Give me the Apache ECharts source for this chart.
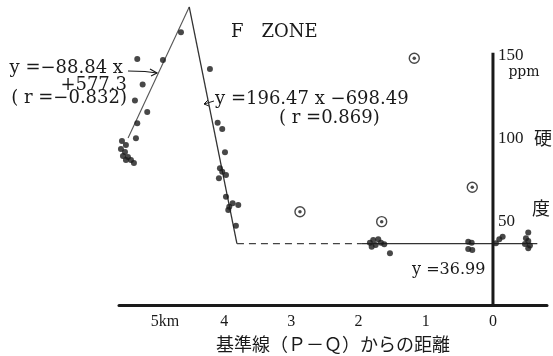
<!DOCTYPE html>
<html><head><meta charset="utf-8">
<script src="https://cdn.jsdelivr.net/npm/echarts@6/dist/echarts.min.js"></script>
<style>html,body{margin:0;padding:0;background:#fff}#c{width:553px;height:356px}</style>
</head><body><div id="c"></div>
<script>
// ---- data (distance from baseline P-Q in km, hardness in ppm) ----
const xTickValues = [0, 1, 2, 3, 4, 5];
const xTickLabels = ['0', '1', '2', '3', '4', '5km'];
const yTickValues = [50, 100, 150];

const dots = [
  [5.293,148.2],[4.911,147.6],[4.643,164.3],[5.213,132.8],[5.328,123.1],[5.145,116.3],[5.293,109.5],[5.313,100.4],
  [5.521,98.8],[5.462,96.4],[5.536,94.0],[5.476,92.2],[5.506,89.8],[5.432,89.2],[5.462,87.3],[5.387,87.3],[5.343,85.5],
  [4.212,142.2],[4.097,109.8],[4.029,106.0],[3.988,92.0],[4.063,82.3],[4.029,80.3],[3.973,78.3],[4.078,76.3],
  [3.973,65.2],[3.924,59.2],[3.874,61.3],[3.790,60.2],[3.939,57.2],[3.825,47.8],
  [1.831,37.5],[1.782,39.2],[1.746,36.1],[1.707,39.6],[1.667,37.5],[1.805,35.1],[1.618,36.6],[1.533,31.1],
  [0.368,38.1],[0.317,37.5],[0.368,33.7],[0.308,33.1],
  [-0.044,37.2],[-0.094,39.6],[-0.144,41.1],
  [-0.525,43.6],[-0.491,40.2],[-0.525,38.6],[-0.476,36.7],[-0.550,35.8],[-0.525,34.2]
];
const circled = [[1.171,148.6],[0.308,70.9],[2.872,56.2],[1.656,50.2]];

const riseLine = [[5.43,100.6],[4.52,179.5]];
const fallLine = [[4.52,179.5],[3.81,36.99]];
const meanDashed = [[3.81,36.99],[1.95,36.99]];
const meanSolid = [[1.95,36.99],[-0.66,36.99]];
const yAxisLine = [[0,0],[0,152]];

// ---- chart ----
const SERIF = '"DejaVu Serif", "Liberation Serif", serif';
const TICKFONT = '"Liberation Serif", serif';
const JP = '"Noto Sans CJK JP", sans-serif';
const INK = '#1a1a1a';

const chart = echarts.init(document.getElementById('c'), null, {renderer: 'canvas'});

function txt(text, x, y, align, size, family) {
  return {type: 'text', silent: true, style: {text: text, x: x, y: y, textAlign: align, textVerticalAlign: 'middle',
    font: (size || 17) + 'px ' + (family || SERIF), fill: INK}};
}

chart.setOption({
  animation: false,
  backgroundColor: '#fff',
  grid: {left: 119, right: 6, top: 0, bottom: 51, containLabel: false, outerBoundsMode: 'none'},
  xAxis: {
    type: 'value', inverse: true, min: -0.804, max: 5.565,
    axisLine: {onZero: false, lineStyle: {color: INK, width: 3}},
    axisTick: {show: false}, splitLine: {show: false},
    axisLabel: {
      customValues: xTickValues, margin: 9, color: INK, fontFamily: TICKFONT, fontSize: 16,
      formatter: function (v) { const i = xTickValues.indexOf(v); const s = xTickLabels[i]; return s === '5km' ? '{p|}5{u|km}' : s; },
      rich: {p: {width: 16}, u: {fontFamily: TICKFONT, fontSize: 16, color: INK}}
    },
    name: '基準線（Ｐ－Ｑ）からの距離', nameLocation: 'middle', nameGap: 30,
    nameTextStyle: {fontFamily: JP, fontSize: 18, color: INK}
  },
  yAxis: {
    type: 'value', min: 0, max: 183.7, position: 'right', offset: -54,
    axisLine: {show: false, onZero: false},
    axisTick: {show: false}, splitLine: {show: false},
    axisLabel: {customValues: yTickValues, margin: 5, color: INK, fontFamily: TICKFONT, fontSize: 17}
  },
  series: [
    {type: 'line', data: riseLine, symbol: 'none', lineStyle: {color: '#555', width: 1.1}, z: 2},
    {type: 'line', data: fallLine, symbol: 'none', lineStyle: {color: '#333', width: 1.3}, z: 2},
    {type: 'line', data: meanDashed, symbol: 'none', lineStyle: {color: '#444', width: 1.2, type: [7, 5]}, z: 2},
    {type: 'line', data: meanSolid, symbol: 'none', lineStyle: {color: '#333', width: 1.3}, z: 2},
    {type: 'line', data: yAxisLine, symbol: 'none', lineStyle: {color: INK, width: 3}, z: 2},
    {type: 'scatter', data: dots, symbol: 'circle', symbolSize: 6, itemStyle: {color: INK}, z: 3},
    {type: 'scatter', data: circled, symbol: 'circle', symbolSize: 10, itemStyle: {color: '#fff', borderColor: INK, borderWidth: 1.4}, z: 3},
    {type: 'scatter', data: circled, symbol: 'circle', symbolSize: 3.5, itemStyle: {color: INK}, z: 4}
  ],
  graphic: {elements: [
    txt('F\u3000ZONE', 231, 32, 'left', 18),
    txt('y =\u221288.84 x', 123, 68, 'right', 18),
    txt('+577.3', 127, 85, 'right', 18),
    txt('( r =\u22120.832)', 127, 98, 'right', 18),
    txt('y =196.47 x \u2212698.49', 215, 99, 'left', 18),
    txt('( r =0.869)', 279, 118, 'left', 18),
    txt('y =36.99', 412, 270, 'left', 16),
    txt('ppm', 524, 72, 'center', 14),
    txt('硬', 543, 138, 'center', 18, JP),
    txt('度', 541, 208, 'center', 18, JP),
    {type: 'polyline', silent: true, shape: {points: [[128, 71], [145, 71.5], [157, 73]]}, style: {stroke: INK, lineWidth: 1.2, fill: null}},
    {type: 'polyline', silent: true, shape: {points: [[150, 69], [157, 73], [151, 76]]}, style: {stroke: INK, lineWidth: 1.2, fill: null}},
    {type: 'polyline', silent: true, shape: {points: [[214, 101], [204, 104]]}, style: {stroke: INK, lineWidth: 1, fill: null}},
    {type: 'polyline', silent: true, shape: {points: [[208, 100], [204, 104], [209, 106]]}, style: {stroke: INK, lineWidth: 1, fill: null}}
  ]}
});
</script></body></html>
